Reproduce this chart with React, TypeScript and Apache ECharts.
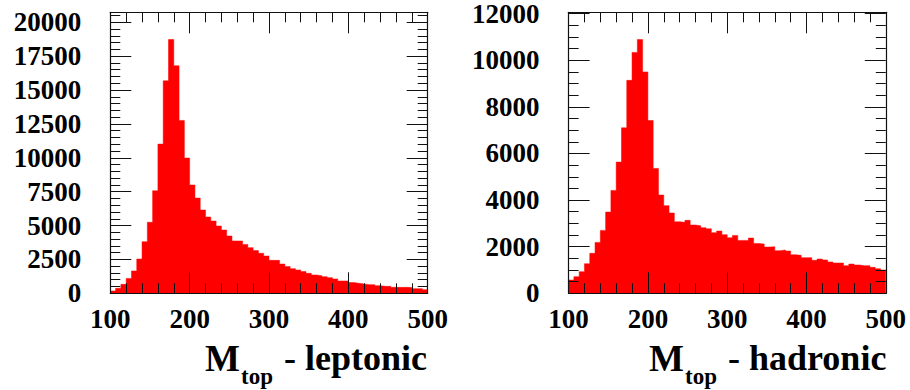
import React, { useEffect, useRef } from "react";
import * as echarts from "echarts";

// Histogram binning (60 bins from 100 to 500)
const BIN_MIN = 100;
const BIN_MAX = 500;
const N_BINS = 60;

// Bin contents
const leptonicCounts = [
  170, 370, 660, 1100, 1650, 2530, 3810, 5240, 7570, 11010,
  15680, 18730, 16790, 12760, 9980, 7990, 7030, 6145, 5630, 5330,
  4965, 4670, 4230, 3860, 3860, 3610, 3370, 3150, 2950, 2750,
  2430, 2430, 2160, 1970, 1820, 1720, 1600, 1475, 1350, 1300,
  1230, 1155, 1060, 910, 910, 790, 740, 690, 640, 640,
  565, 515, 515, 440, 440, 440, 420, 345, 345, 270,
];

const hadronicCounts = [
  570, 715, 930, 1270, 1715, 2185, 2700, 3485, 4415, 5630,
  7100, 9140, 10340, 10890, 9500, 7415, 5360, 4215, 3760, 3445,
  3070, 3045, 3130, 2930, 2900, 2815, 2770, 2600, 2670, 2515,
  2385, 2485, 2270, 2270, 2370, 2140, 2115, 1985, 2000, 1830,
  1860, 1815, 1655, 1630, 1530, 1530, 1415, 1470, 1430, 1345,
  1300, 1300, 1185, 1255, 1215, 1185, 1185, 1115, 1055, 1000,
];

const xTicks = [100, 200, 300, 400, 500];
const leptonicYMax = 20737;
const hadronicYMax = 12060;

const FONT = "'Liberation Serif', 'Times New Roman', serif";

// Step points: [lower bin edge, content], closed with the upper edge of the last bin
function toSteps(counts: number[]) {
  const w = (BIN_MAX - BIN_MIN) / N_BINS;
  const pts = counts.map((c, i) => [BIN_MIN + i * w, c]);
  pts.push([BIN_MAX, counts[counts.length - 1]]);
  return pts;
}

const tickStyle = { color: "#111", width: 1 };

function xAxisPair(gridIndex: number) {
  const base = {
    type: "value",
    gridIndex,
    min: BIN_MIN,
    max: BIN_MAX,
    interval: 100,
    z: 10,
    splitLine: { show: false },
    axisLine: { show: true, onZero: false, lineStyle: { color: "#111", width: 1.2 } },
    axisTick: { show: true, inside: true, length: 21, lineStyle: tickStyle },
    minorTick: { show: true, splitNumber: 5, length: 10, lineStyle: tickStyle },
    minorSplitLine: { show: false },
  };
  return [
    {
      ...base,
      position: "bottom",
      axisLabel: {
        show: true,
        margin: 12,
        fontFamily: FONT,
        fontWeight: "bold",
        fontSize: 27,
        color: "#000",
        formatter: (v: number) => (xTicks.includes(v) ? String(v) : ""),
      },
    },
    { ...base, position: "top", axisLabel: { show: false } },
  ];
}

function yAxisPair(gridIndex: number, max: number, interval: number, split: number) {
  const base = {
    type: "value",
    gridIndex,
    min: 0,
    max,
    interval,
    z: 10,
    splitLine: { show: false },
    axisLine: { show: true, onZero: false, lineStyle: { color: "#111", width: 1.2 } },
    axisTick: { show: true, inside: true, length: 21, lineStyle: tickStyle },
    minorTick: { show: true, splitNumber: split, length: 10, lineStyle: tickStyle },
    minorSplitLine: { show: false },
  };
  return [
    {
      ...base,
      position: "left",
      axisLabel: {
        show: true,
        margin: 29,
        showMaxLabel: false,
        fontFamily: FONT,
        fontWeight: "bold",
        fontSize: 27,
        color: "#000",
        formatter: (v: number) => String(v),
      },
    },
    { ...base, position: "right", axisLabel: { show: false } },
  ];
}

function titleTexts(x: number, rest: string) {
  return [
    {
      type: "text",
      x: x,
      y: 358,
      style: {
        text: "M",
        fontFamily: FONT,
        fontWeight: "bold",
        fontSize: 37,
        fill: "#000",
        verticalAlign: "middle",
        align: "left",
      },
    },
    {
      type: "text",
      x: x + 36,
      y: 376,
      style: {
        text: "top",
        fontFamily: FONT,
        fontWeight: "bold",
        fontSize: 23,
        fill: "#000",
        verticalAlign: "middle",
        align: "left",
      },
    },
    {
      type: "text",
      x: x + 79,
      y: 358,
      style: {
        text: rest,
        fontFamily: FONT,
        fontWeight: "bold",
        fontSize: 36,
        fill: "#000",
        verticalAlign: "middle",
        align: "left",
      },
    },
  ];
}

function histSeries(xAxisIndex: number, yAxisIndex: number, counts: number[]) {
  return {
    type: "line",
    xAxisIndex,
    yAxisIndex,
    step: "end",
    data: toSteps(counts),
    symbol: "none",
    showSymbol: false,
    lineStyle: { color: "#ff0000", width: 0.5 },
    itemStyle: { color: "#ff0000" },
    areaStyle: { color: "#ff0000", opacity: 1, origin: "start" },
    clip: true,
    z: 1,
  };
}

export default function App() {
  const ref = useRef<HTMLDivElement>(null);

  useEffect(() => {
    document.body.style.margin = "0";
    if (!ref.current) return;
    const chart = echarts.init(ref.current, null, { renderer: "svg" });
    const xl = xAxisPair(0);
    const xr = xAxisPair(1);
    const yl = yAxisPair(0, leptonicYMax, 2500, 5);
    const yr = yAxisPair(1, hadronicYMax, 2000, 4);
    chart.setOption({
      animation: false,
      backgroundColor: "#ffffff",
      grid: [
        { left: 110.3, top: 12.3, width: 317.4, height: 281, containLabel: false },
        { left: 568.6, top: 12.3, width: 317.2, height: 281, containLabel: false },
      ],
      xAxis: [xl[0], xl[1], xr[0], xr[1]],
      yAxis: [yl[0], yl[1], yr[0], yr[1]],
      series: [
        histSeries(0, 0, leptonicCounts),
        histSeries(2, 2, hadronicCounts),
      ],
      graphic: [...titleTexts(205, "- leptonic"), ...titleTexts(649, "- hadronic")],
    });
    return () => chart.dispose();
  }, []);

  return (
    <div
      ref={ref}
      style={{ position: "absolute", left: 0, top: 0, width: 910, height: 390 }}
    />
  );
}
